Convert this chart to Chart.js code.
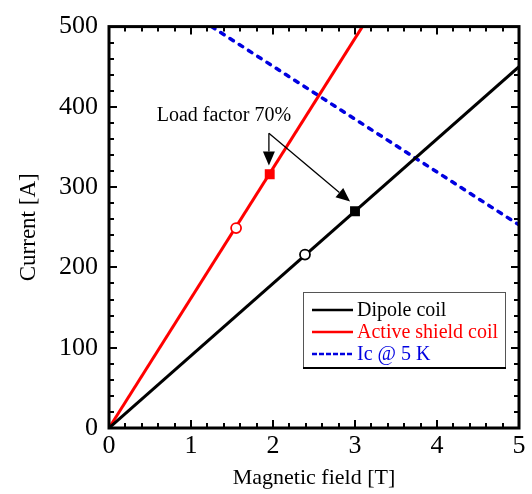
<!DOCTYPE html>
<html>
<head>
<meta charset="utf-8">
<script src="https://cdn.jsdelivr.net/npm/chart.js@4/dist/chart.umd.min.js"></script>
<style>
  html, body { margin: 0; padding: 0; background: #fff; }
  #wrap { width: 532px; height: 494px; }
</style>
</head>
<body>
<div id="wrap"><canvas id="c" width="532" height="494"></canvas></div>
<script>
// ---- data ----
const seriesLabels = ["Dipole coil", "Active shield coil", "Ic @ 5 K"];
const dipoleField = [0, 5];
const dipoleCurrent = [0, 450];
const shieldField = [0, 3.09];
const shieldCurrent = [0, 500];
const icField = [1.25, 5];
const icCurrent = [500, 253];
// operating points (open circle) and load-factor-70% points (filled square)
const dipoleOpField = [2.39];
const dipoleOpCurrent = [216];
const dipoleLfField = [3.0];
const dipoleLfCurrent = [270];
const shieldOpField = [1.55];
const shieldOpCurrent = [249];
const shieldLfField = [1.96];
const shieldLfCurrent = [316];
const annotationText = "Load factor 70%";
const annotationAnchor = [1.95, 367];
const arrowTips = [[1.95, 327], [2.94, 282]];
const xTickValues = [0, 1, 2, 3, 4, 5];
const yTickValues = [0, 100, 200, 300, 400, 500];

function pts(xs, ys) { return xs.map((x, i) => ({ x: x, y: ys[i] })); }

const SERIF = "'Liberation Serif', 'DejaVu Serif', serif";

const framePlugin = {
  id: 'frame',
  afterDatasetsDraw(chart) {
    const ctx = chart.ctx;
    const a = chart.chartArea;
    const xs = chart.scales.x, ys = chart.scales.y;
    ctx.save();
    ctx.strokeStyle = '#000';
    // ticks
    ctx.lineWidth = 2;
    for (let i = 0; i <= 25; i++) {
      const v = i * 0.2;
      const p = Math.round(xs.getPixelForValue(v));
      const len = (i % 5 === 0) ? 8 : 5;
      ctx.beginPath();
      ctx.moveTo(p, a.bottom); ctx.lineTo(p, a.bottom - len);
      ctx.moveTo(p, a.top); ctx.lineTo(p, a.top + len);
      ctx.stroke();
    }
    for (let i = 0; i <= 25; i++) {
      const v = i * 20;
      const p = Math.round(ys.getPixelForValue(v));
      const len = (i % 5 === 0) ? 8 : 5;
      ctx.beginPath();
      ctx.moveTo(a.left, p); ctx.lineTo(a.left + len, p);
      ctx.moveTo(a.right, p); ctx.lineTo(a.right - len, p);
      ctx.stroke();
    }
    // frame
    ctx.lineWidth = 3;
    ctx.strokeRect(a.left, a.top, a.right - a.left, a.bottom - a.top);

    // annotation
    ctx.fillStyle = '#000';
    ctx.font = '20px ' + SERIF;
    ctx.textAlign = 'center';
    ctx.textBaseline = 'middle';
    const ax = xs.getPixelForValue(annotationAnchor[0]);
    const ay = ys.getPixelForValue(annotationAnchor[1]);
    ctx.fillText(annotationText, ax - 45, ay - 18);
    ctx.lineWidth = 1.3;
    arrowTips.forEach(t => {
      const tx = xs.getPixelForValue(t[0]);
      const ty = ys.getPixelForValue(t[1]);
      const ang = Math.atan2(ty - ay, tx - ax);
      const hl = 14, hw = 6;
      const bx = tx - hl * Math.cos(ang), by = ty - hl * Math.sin(ang);
      ctx.beginPath();
      ctx.moveTo(ax, ay); ctx.lineTo(bx, by);
      ctx.stroke();
      ctx.beginPath();
      ctx.moveTo(tx, ty);
      ctx.lineTo(bx + hw * Math.sin(ang), by - hw * Math.cos(ang));
      ctx.lineTo(bx - hw * Math.sin(ang), by + hw * Math.cos(ang));
      ctx.closePath();
      ctx.fill();
    });

    // legend box
    const lx = 303, ly = 292, lw = 202, lh = 75;
    ctx.fillStyle = '#fff';
    ctx.fillRect(lx, ly, lw, lh);
    ctx.lineWidth = 1;
    ctx.strokeStyle = '#555';
    ctx.strokeRect(lx + 0.5, ly + 0.5, lw, lh);
    ctx.strokeStyle = '#000';
    ctx.lineWidth = 2;
    ctx.beginPath();
    ctx.moveTo(lx, ly + lh + 1); ctx.lineTo(lx + lw + 1, ly + lh + 1);
    ctx.stroke();
    [0, 1, 2].forEach((k, i) => {
      const ds = chart.data.datasets[k];
      const yy = ly + 18 + i * 22;
      ctx.save();
      ctx.strokeStyle = ds.borderColor;
      ctx.lineWidth = 2.5;
      ctx.setLineDash(ds.borderDash ? [5, 2] : []);
      ctx.beginPath();
      ctx.moveTo(lx + 9, yy); ctx.lineTo(lx + 50, yy);
      ctx.stroke();
      ctx.restore();
      ctx.fillStyle = ds.borderColor;
      ctx.font = '20px ' + SERIF;
      ctx.textAlign = 'left';
      ctx.textBaseline = 'middle';
      ctx.fillText(ds.label, lx + 54, yy + 1);
    });
    ctx.restore();
  }
};

const ctx = document.getElementById('c').getContext('2d');
new Chart(ctx, {
  type: 'scatter',
  data: {
    datasets: [
      { label: seriesLabels[0], data: pts(dipoleField, dipoleCurrent), showLine: true,
        borderColor: '#000', borderWidth: 3, pointRadius: 0, order: 3 },
      { label: seriesLabels[1], data: pts(shieldField, shieldCurrent), showLine: true,
        borderColor: '#ff0000', borderWidth: 3, pointRadius: 0, order: 3 },
      { label: seriesLabels[2], data: pts(icField, icCurrent), showLine: true,
        borderColor: '#0000e0', borderWidth: 3.5, borderDash: [4, 7], borderCapStyle: 'round',
        pointRadius: 0, order: 3 },
      { label: 'dipole op', data: pts(dipoleOpField, dipoleOpCurrent), showLine: false,
        pointStyle: 'circle', pointRadius: 5, borderWidth: 1.8, borderColor: '#000',
        backgroundColor: '#fff', order: 1 },
      { label: 'dipole lf', data: pts(dipoleLfField, dipoleLfCurrent), showLine: false,
        pointStyle: 'rect', pointRadius: 7, borderWidth: 0, borderColor: '#000',
        backgroundColor: '#000', order: 1 },
      { label: 'shield op', data: pts(shieldOpField, shieldOpCurrent), showLine: false,
        pointStyle: 'circle', pointRadius: 5, borderWidth: 1.8, borderColor: '#ff0000',
        backgroundColor: '#fff', order: 1 },
      { label: 'shield lf', data: pts(shieldLfField, shieldLfCurrent), showLine: false,
        pointStyle: 'rect', pointRadius: 7, borderWidth: 0, borderColor: '#ff0000',
        backgroundColor: '#ff0000', order: 1 }
    ]
  },
  options: {
    responsive: false,
    animation: false,
    events: [],
    layout: { padding: { top: 18, right: 13, left: 0, bottom: 0 } },
    plugins: { legend: { display: false }, tooltip: { enabled: false } },
    scales: {
      x: {
        type: 'linear', min: 0, max: 5,
        afterFit(s) { s.height = 66; },
        afterBuildTicks(s) { s.ticks = xTickValues.map(v => ({ value: v })); },
        grid: { display: false, drawTicks: false },
        border: { display: false },
        ticks: { color: '#000', padding: 3, maxRotation: 0, autoSkip: false,
          font: { family: SERIF, size: 26 } },
        title: { display: true, text: 'Magnetic field [T]', color: '#000',
          font: { family: SERIF, size: 22 }, padding: { top: 0, bottom: 3 } }
      },
      y: {
        type: 'linear', min: 0, max: 500,
        afterFit(s) { s.width = 109; },
        afterBuildTicks(s) { s.ticks = yTickValues.map(v => ({ value: v })); },
        grid: { display: false, drawTicks: false },
        border: { display: false },
        ticks: { color: '#000', padding: 11, autoSkip: false,
          font: { family: SERIF, size: 26 } },
        title: { display: true, text: 'Current [A]', color: '#000',
          font: { family: SERIF, size: 23 }, padding: { top: 15, bottom: 0 } }
      }
    }
  },
  plugins: [framePlugin]
});
</script>
</body>
</html>
